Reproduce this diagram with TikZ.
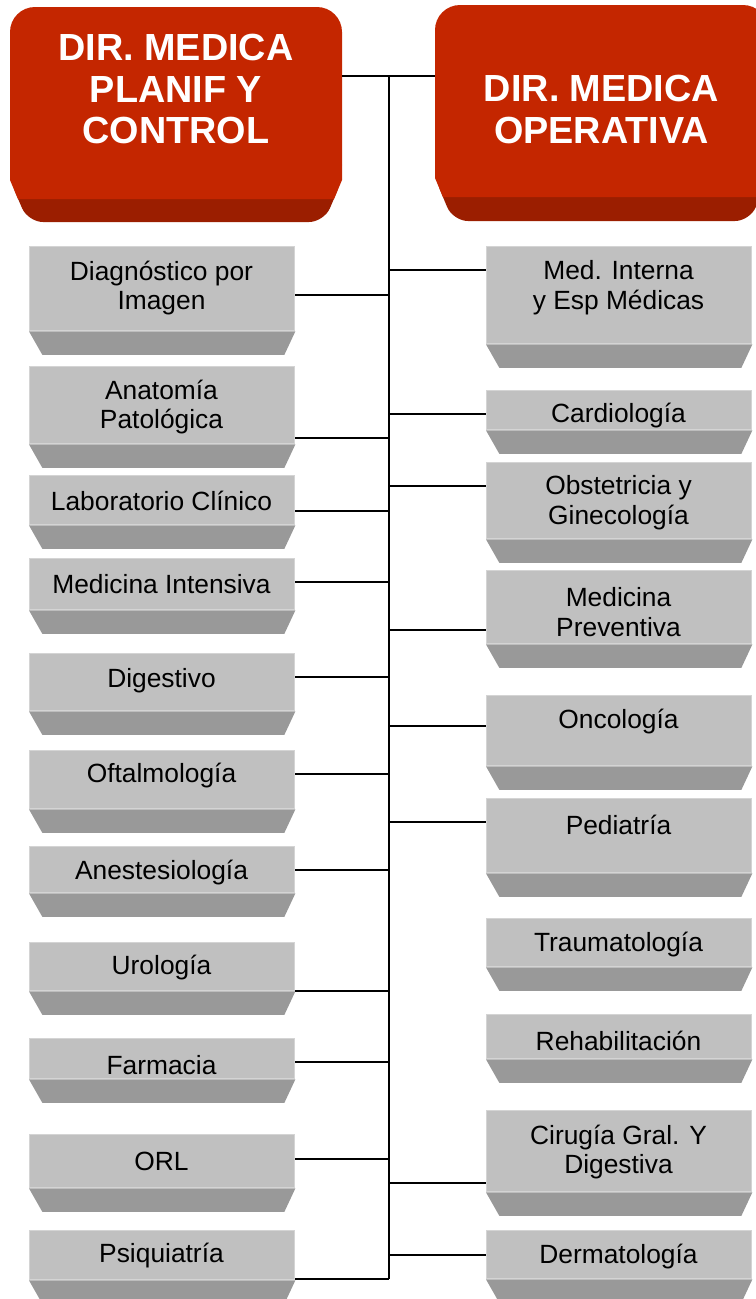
\documentclass[tikz,border=0pt]{standalone}
\usepackage{fontspec}
\setmainfont{Liberation Sans}
\usepackage{xcolor}
\usepackage{tikz}
\usetikzlibrary{calc}

\definecolor{dirred}{RGB}{196,38,0}
\definecolor{dirdark}{RGB}{155,30,0}
\definecolor{unitgray}{RGB}{192,192,192}
\definecolor{unitedge}{RGB}{212,212,212}
\definecolor{unitdark}{RGB}{153,153,153}

\begin{document}
\begin{tikzpicture}[
  x=0.02cm, y=-0.02cm,
  link/.style={draw=black, line width=1.1pt},
  dir_face/.style={fill=dirred},
  dir_bevel/.style={fill=dirdark},
  dir_frame/.style={rectangle, minimum width=6.64cm, minimum height=3.84cm, inner sep=0pt},
  dir_text/.style={text=white, font=\fontsize{21.5}{23.8}\selectfont\bfseries, align=center},
  unit_face/.style={rectangle, fill=unitgray, draw=unitedge, line width=0.8pt, minimum width=5.3cm, anchor=north west, inner sep=0pt},
  unit_bevel/.style={fill=unitdark},
  unit_text/.style={font=\fontsize{15}{17}\selectfont, align=center, text=black, yshift=-0.06cm}
]

  \useasboundingbox (0,0) rectangle (755,1299);

  % TOP LEFT: Dir. Medica Planif y Control
  \fill[dir_bevel, rounded corners=0.3cm] (10,150) -- (10,180) -- (28,222) -- (324,222) -- (342,180) -- (342,150) -- cycle;
  \fill[dir_face, rounded corners=0.5cm] (10,120) -- (10,7) -- (342,7) -- (342,120) [sharp corners] -- (342,180) -- (334,199) -- (18,199) -- (10,180) -- cycle;
  \node (planif) [dir_frame] at (176,103) {};
  \node (planif_text) [dir_text] at (176,89) {DIR. MEDICA\\PLANIF Y\\CONTROL};

  % TOP RIGHT: Dir. Medica Operativa
  \fill[dir_bevel, rounded corners=0.3cm] (435,150) -- (435,178) -- (453,221) -- (750,221) -- (768,178) -- (768,150) -- cycle;
  \fill[dir_face, rounded corners=0.5cm] (435,120) -- (435,5) -- (768,5) -- (768,120) [sharp corners] -- (768,178) -- (760,197) -- (443,197) -- (435,178) -- cycle;
  \node (operativa) [dir_frame] at (601.5,101) {};
  \node (operativa_text) [dir_text] at (601.5,109.5) {DIR. MEDICA\\OPERATIVA};

  % Trunk
  \coordinate (trunk_top) at (389,76);
  \coordinate (trunk_bot) at (389,1279);
  \draw[link] (planif.east |- trunk_top) -- (operativa.west |- trunk_top);
  \draw[link] (trunk_top) -- (trunk_bot);

  % LEFT COLUMN
  \node (diag) [unit_face, minimum height=1.68cm] at (29,246) {};
  \node (diag_text) [unit_text] at (161.5,285) {Diagnóstico por\\Imagen};
  \fill[unit_bevel] (diag.south west) -- (diag.south east) -- ++(-11,23.5) -- ++(-242,0) -- cycle;

  \node (anat) [unit_face, minimum height=1.54cm] at (29,366) {};
  \node (anat_text) [unit_text] at (161.5,404) {Anatomía\\Patológica};
  \fill[unit_bevel] (anat.south west) -- (anat.south east) -- ++(-11,23.5) -- ++(-242,0) -- cycle;

  \node (lab) [unit_face, minimum height=0.98cm] at (29,475) {};
  \node (lab_text) [unit_text] at (161.5,498) {Laboratorio Clínico};
  \fill[unit_bevel] (lab.south west) -- (lab.south east) -- ++(-11,23.5) -- ++(-242,0) -- cycle;

  \node (medint) [unit_face, minimum height=1.02cm] at (29,558) {};
  \node (medint_text) [unit_text] at (161.5,581) {Medicina Intensiva};
  \fill[unit_bevel] (medint.south west) -- (medint.south east) -- ++(-11,23.5) -- ++(-242,0) -- cycle;

  \node (dig) [unit_face, minimum height=1.14cm] at (29,653) {};
  \node (dig_text) [unit_text] at (161.5,678) {Digestivo};
  \fill[unit_bevel] (dig.south west) -- (dig.south east) -- ++(-11,23.5) -- ++(-242,0) -- cycle;

  \node (oft) [unit_face, minimum height=1.16cm] at (29,750) {};
  \node (oft_text) [unit_text] at (161.5,773) {Oftalmología};
  \fill[unit_bevel] (oft.south west) -- (oft.south east) -- ++(-11,23.5) -- ++(-242,0) -- cycle;

  \node (anes) [unit_face, minimum height=0.92cm] at (29,846) {};
  \node (anes_text) [unit_text] at (161.5,870) {Anestesiología};
  \fill[unit_bevel] (anes.south west) -- (anes.south east) -- ++(-11,23.5) -- ++(-242,0) -- cycle;

  \node (uro) [unit_face, minimum height=0.96cm] at (29,942) {};
  \node (uro_text) [unit_text] at (161.5,965) {Urología};
  \fill[unit_bevel] (uro.south west) -- (uro.south east) -- ++(-11,23.5) -- ++(-242,0) -- cycle;

  \node (farm) [unit_face, minimum height=0.80cm] at (29,1038) {};
  \node (farm_text) [unit_text] at (161.5,1062) {Farmacia};
  \fill[unit_bevel] (farm.south west) -- (farm.south east) -- ++(-11,23.5) -- ++(-242,0) -- cycle;

  \node (orl) [unit_face, minimum height=1.06cm] at (29,1134) {};
  \node (orl_text) [unit_text] at (161.5,1158) {ORL};
  \fill[unit_bevel] (orl.south west) -- (orl.south east) -- ++(-11,23.5) -- ++(-242,0) -- cycle;

  \node (psiq) [unit_face, minimum height=0.98cm] at (29,1230) {};
  \node (psiq_text) [unit_text] at (161.5,1253) {Psiquiatría};
  \fill[unit_bevel] (psiq.south west) -- (psiq.south east) -- ++(-11,23.5) -- ++(-242,0) -- cycle;

  % RIGHT COLUMN
  \node (medi) [unit_face, minimum height=1.94cm] at (486,246) {};
  \node (medi_text) [unit_text] at (618.5,285) {Med. Interna\\y Esp Médicas};
  \fill[unit_bevel] (medi.south west) -- (medi.south east) -- ++(-11,23.5) -- ++(-242,0) -- cycle;

  \node (card) [unit_face, minimum height=0.78cm] at (486,390) {};
  \node (card_text) [unit_text] at (618.5,413) {Cardiología};
  \fill[unit_bevel] (card.south west) -- (card.south east) -- ++(-11,23.5) -- ++(-242,0) -- cycle;

  \node (obst) [unit_face, minimum height=1.52cm] at (486,462) {};
  \node (obst_text) [unit_text] at (618.5,500) {Obstetricia y\\Ginecología};
  \fill[unit_bevel] (obst.south west) -- (obst.south east) -- ++(-11,23.5) -- ++(-242,0) -- cycle;

  \node (prev) [unit_face, minimum height=1.46cm] at (486,570) {};
  \node (prev_text) [unit_text] at (618.5,609) {Medicina\\Preventiva};
  \fill[unit_bevel] (prev.south west) -- (prev.south east) -- ++(-11,23.5) -- ++(-242,0) -- cycle;

  \node (onco) [unit_face, minimum height=1.40cm] at (486,695) {};
  \node (onco_text) [unit_text] at (618.5,719) {Oncología};
  \fill[unit_bevel] (onco.south west) -- (onco.south east) -- ++(-11,23.5) -- ++(-242,0) -- cycle;

  \node (pedi) [unit_face, minimum height=1.48cm] at (486,798) {};
  \node (pedi_text) [unit_text] at (618.5,822) {Pediatría};
  \fill[unit_bevel] (pedi.south west) -- (pedi.south east) -- ++(-11,23.5) -- ++(-242,0) -- cycle;

  \node (trau) [unit_face, minimum height=0.96cm] at (486,918) {};
  \node (trau_text) [unit_text] at (618.5,942) {Traumatología};
  \fill[unit_bevel] (trau.south west) -- (trau.south east) -- ++(-11,23.5) -- ++(-242,0) -- cycle;

  \node (reha) [unit_face, minimum height=0.88cm] at (486,1014) {};
  \node (reha_text) [unit_text] at (618.5,1038) {Rehabilitación};
  \fill[unit_bevel] (reha.south west) -- (reha.south east) -- ++(-11,23.5) -- ++(-242,0) -- cycle;

  \node (ciru) [unit_face, minimum height=1.62cm] at (486,1110) {};
  \node (ciru_text) [unit_text] at (618.5,1149) {Cirugía Gral. Y\\Digestiva};
  \fill[unit_bevel] (ciru.south west) -- (ciru.south east) -- ++(-11,23.5) -- ++(-242,0) -- cycle;

  \node (derm) [unit_face, minimum height=0.96cm] at (486,1230) {};
  \node (derm_text) [unit_text] at (618.5,1254) {Dermatología};
  \fill[unit_bevel] (derm.south west) -- (derm.south east) -- ++(-11,23.5) -- ++(-242,0) -- cycle;

  % Connections
  \draw[link] (diag.east |- 0,295) -- (trunk_top |- 0,295);
  \draw[link] (anat.east |- 0,438) -- (trunk_top |- 0,438);
  \draw[link] (lab.east |- 0,511) -- (trunk_top |- 0,511);
  \draw[link] (medint.east |- 0,582) -- (trunk_top |- 0,582);
  \draw[link] (dig.east |- 0,677) -- (trunk_top |- 0,677);
  \draw[link] (oft.east |- 0,774) -- (trunk_top |- 0,774);
  \draw[link] (anes.east |- 0,870) -- (trunk_top |- 0,870);
  \draw[link] (uro.east |- 0,991) -- (trunk_top |- 0,991);
  \draw[link] (farm.east |- 0,1062) -- (trunk_top |- 0,1062);
  \draw[link] (orl.east |- 0,1159) -- (trunk_top |- 0,1159);
  \draw[link] (psiq.east |- 0,1279) -- (trunk_top |- 0,1279);
  \draw[link] (trunk_top |- 0,270) -- (medi.west |- 0,270);
  \draw[link] (trunk_top |- 0,414) -- (card.west |- 0,414);
  \draw[link] (trunk_top |- 0,486) -- (obst.west |- 0,486);
  \draw[link] (trunk_top |- 0,630) -- (prev.west |- 0,630);
  \draw[link] (trunk_top |- 0,726) -- (onco.west |- 0,726);
  \draw[link] (trunk_top |- 0,822) -- (pedi.west |- 0,822);
  \draw[link] (trunk_top |- 0,1183) -- (ciru.west |- 0,1183);
  \draw[link] (trunk_top |- 0,1255) -- (derm.west |- 0,1255);

\end{tikzpicture}
\end{document}
